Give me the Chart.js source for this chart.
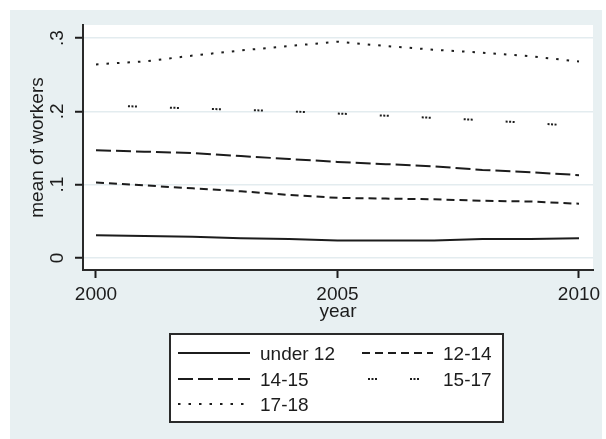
<!DOCTYPE html>
<html>
<head>
<meta charset="utf-8">
<script src="https://cdn.jsdelivr.net/npm/chart.js@4/dist/chart.umd.min.js"></script>
<style>
  html, body { margin: 0; padding: 0; background: #fff; }
  #wrap { width: 606px; height: 439px; position: relative; }
</style>
</head>
<body>
<div id="wrap"><canvas id="c" width="606" height="439"></canvas></div>
<script>
// Share of children working, by age group
const years = [2000, 2001, 2002, 2003, 2004, 2005, 2006, 2007, 2008, 2009, 2010];
const under12 = [0.031, 0.030, 0.029, 0.027, 0.026, 0.024, 0.024, 0.024, 0.026, 0.026, 0.027];
const age12to14 = [0.103, 0.099, 0.095, 0.091, 0.086, 0.082, 0.081, 0.080, 0.078, 0.077, 0.074];
const age14to15 = [0.147, 0.145, 0.143, 0.139, 0.135, 0.131, 0.128, 0.125, 0.120, 0.117, 0.113];
const age15to17 = [0.209, 0.206, 0.204, 0.202, 0.200, 0.197, 0.194, 0.191, 0.188, 0.184, 0.180];
const age17to18 = [0.264, 0.268, 0.276, 0.283, 0.289, 0.295, 0.289, 0.284, 0.280, 0.275, 0.268];
const seriesNames = ['under 12', '12-14', '14-15', '15-17', '17-18'];
const xTicks = [2000, 2005, 2010];
const yTicks = [0, 0.1, 0.2, 0.3];
const yTickLabels = ['0', '.1', '.2', '.3'];

const FONT = '"Liberation Sans", Arial, sans-serif';
const INK = '#1c1c1c';
const BG = '#E8F0F2';
const GRID = '#E3ECEF';

// line patterns for the five groups
const styles = [
  { dash: [], offset: 0, legendOffset: 0, width: 2 },
  { dash: [8, 5], offset: 0, legendOffset: 0, width: 2 },
  { dash: [15, 5], offset: 0, legendOffset: 0, width: 2 },
  { dash: [2, 1.5, 2, 1.5, 2, 33], offset: 10, legendOffset: 36, width: 2 },
  { dash: [2.5, 8], offset: 0, legendOffset: 0, width: 2 }
];
const values = [under12, age12to14, age14to15, age15to17, age17to18];

const datasets = values.map((vals, i) => ({
  label: seriesNames[i],
  data: years.map((yr, j) => ({ x: yr, y: vals[j] })),
  borderColor: INK,
  borderWidth: styles[i].width,
  borderDash: styles[i].dash,
  borderDashOffset: styles[i].offset,
  pointRadius: 0,
  tension: 0,
  fill: false
}));

// page background, plot region and the outer panel
const backdrop = {
  id: 'backdrop',
  beforeDraw(chart) {
    const { ctx, chartArea: a } = chart;
    ctx.save();
    ctx.fillStyle = '#fff';
    ctx.fillRect(0, 0, chart.width, chart.height);
    ctx.fillStyle = BG;
    ctx.fillRect(10, 10, 592, chart.height - 10);
    ctx.fillStyle = '#fff';
    ctx.fillRect(a.left, a.top, a.width, a.height);
    ctx.restore();
  }
};

// vertical tick labels on the y axis
const yLabels = {
  id: 'yLabels',
  afterDraw(chart) {
    const { ctx } = chart;
    const s = chart.scales.y;
    ctx.save();
    ctx.fillStyle = INK;
    ctx.font = '19px ' + FONT;
    ctx.textAlign = 'center';
    ctx.textBaseline = 'middle';
    yTicks.forEach((v, i) => {
      const py = s.getPixelForValue(v);
      ctx.save();
      ctx.translate(s.right - 25, py);
      ctx.rotate(-Math.PI / 2);
      ctx.fillText(yTickLabels[i], 0, 0);
      ctx.restore();
    });
    ctx.restore();
  }
};

// boxed two-column key below the plot
const keyBox = {
  id: 'keyBox',
  afterDraw(chart) {
    const { ctx } = chart;
    const box = { x: 170, y: 334, w: 333, h: 88 };
    ctx.save();
    ctx.fillStyle = '#fff';
    ctx.fillRect(box.x, box.y, box.w, box.h);
    ctx.strokeStyle = '#2a2a2a';
    ctx.lineWidth = 2;
    ctx.strokeRect(box.x, box.y, box.w, box.h);
    const cols = [{ x0: 178, x1: 250, tx: 260 }, { x0: 362, x1: 433, tx: 443 }];
    const rows = [353, 379, 404];
    chart.data.datasets.forEach((ds, i) => {
      const c = cols[i % 2];
      const ry = rows[Math.floor(i / 2)];
      ctx.beginPath();
      ctx.setLineDash(ds.borderDash);
      ctx.lineDashOffset = styles[i].legendOffset;
      ctx.strokeStyle = INK;
      ctx.lineWidth = ds.borderWidth;
      ctx.moveTo(c.x0, ry);
      ctx.lineTo(c.x1, ry);
      ctx.stroke();
      ctx.setLineDash([]);
      ctx.fillStyle = INK;
      ctx.font = '19px ' + FONT;
      ctx.textAlign = 'left';
      ctx.textBaseline = 'middle';
      ctx.fillText(ds.label, c.tx, ry + 2);
    });
    ctx.restore();
  }
};

new Chart(document.getElementById('c'), {
  type: 'line',
  data: { datasets },
  plugins: [backdrop, yLabels, keyBox],
  options: {
    responsive: false,
    animation: false,
    devicePixelRatio: 1,
    layout: { padding: { left: 0, top: 25, right: 13, bottom: 0 } },
    plugins: { legend: { display: false }, tooltip: { enabled: false } },
    scales: {
      x: {
        type: 'linear',
        min: 1999.731,
        max: 2010.29,
        afterBuildTicks: s => { s.ticks = xTicks.map(v => ({ value: v })); },
        afterFit: s => { s.height = 169; },
        ticks: {
          color: INK,
          font: { family: FONT, size: 19 },
          padding: 5,
          maxRotation: 0,
          autoSkip: false,
          callback: v => String(v)
        },
        grid: {
          drawOnChartArea: false,
          drawTicks: true,
          tickLength: 8,
          tickColor: INK,
          tickWidth: 2
        },
        border: { color: '#2a2a2a', width: 2 },
        title: {
          display: true,
          text: 'year',
          color: INK,
          font: { family: FONT, size: 19, lineHeight: 1.2 },
          padding: { top: 0, bottom: 116 }
        }
      },
      y: {
        min: -0.01636,
        max: 0.3177,
        afterBuildTicks: s => { s.ticks = yTicks.map(v => ({ value: v })); },
        afterFit: s => { s.width = 83; },
        ticks: { display: false },
        grid: {
          color: GRID,
          lineWidth: 1.5,
          drawTicks: true,
          tickLength: 8,
          tickColor: INK,
          tickWidth: 2
        },
        border: { color: '#2a2a2a', width: 2 },
        title: {
          display: true,
          text: 'mean of workers',
          color: INK,
          font: { family: FONT, size: 19, lineHeight: 1.2 },
          padding: { top: 26, bottom: 0 }
        }
      }
    }
  }
});
</script>
</body>
</html>
